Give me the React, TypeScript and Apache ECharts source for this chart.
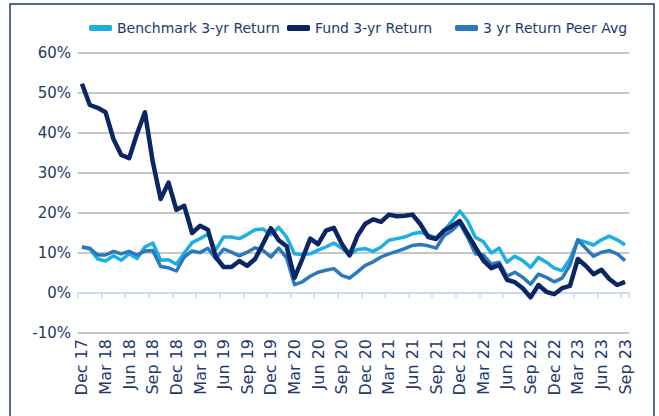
import React, { useEffect, useRef } from "react";
import * as echarts from "echarts";

const months = [
  "Dec 17",
  "Jan 18", "Feb 18", "Mar 18", "Apr 18", "May 18", "Jun 18", "Jul 18", "Aug 18", "Sep 18", "Oct 18", "Nov 18", "Dec 18",
  "Jan 19", "Feb 19", "Mar 19", "Apr 19", "May 19", "Jun 19", "Jul 19", "Aug 19", "Sep 19", "Oct 19", "Nov 19", "Dec 19",
  "Jan 20", "Feb 20", "Mar 20", "Apr 20", "May 20", "Jun 20", "Jul 20", "Aug 20", "Sep 20", "Oct 20", "Nov 20", "Dec 20",
  "Jan 21", "Feb 21", "Mar 21", "Apr 21", "May 21", "Jun 21", "Jul 21", "Aug 21", "Sep 21", "Oct 21", "Nov 21", "Dec 21",
  "Jan 22", "Feb 22", "Mar 22", "Apr 22", "May 22", "Jun 22", "Jul 22", "Aug 22", "Sep 22", "Oct 22", "Nov 22", "Dec 22",
  "Jan 23", "Feb 23", "Mar 23", "Apr 23", "May 23", "Jun 23", "Jul 23", "Aug 23", "Sep 23",
];

const benchmark = [
  11.5,
  11, 8.5, 8, 9.3, 8.2, 9.8, 8.6, 11.5, 12.5, 8.2, 8.3, 7.2,
  10, 12.6, 13.6, 14.7, 10.8, 14, 14, 13.6, 14.6, 15.8, 16, 14.6,
  16.4, 14, 9.8, 9.6, 9.8, 10.7, 11.5, 12.5, 11.2, 9.5, 10.9, 11.1,
  10.4, 11.5, 13.2, 13.6, 14, 14.8, 15.2, 14.5, 13.8, 15.6, 18, 20.5,
  18, 13.9, 12.8, 10, 11.2, 7.7, 9.2, 8.1, 6.4, 8.9, 7.7, 6.2,
  5.6, 8.5, 13.3, 12.7, 12, 13.3, 14.2, 13.3, 12,
];

const fund = [
  52.3,
  47, 46.3, 45.2, 38.5, 34.5, 33.7, 39.8, 45.2, 32.8, 23.5, 27.6, 20.8,
  21.8, 15, 16.8, 15.8, 9, 6.5, 6.5, 8, 6.8, 8.5, 12.3, 16.2,
  13.2, 11.7, 3.8, 8.5, 13.6, 12.2, 15.6, 16.3, 12.3, 9.4, 14.3, 17.3,
  18.4, 17.8, 19.6, 19.2, 19.3, 19.6, 17.2, 14, 13.5, 15.6, 16.7, 18,
  14.7, 11.4, 8.1, 6.2, 7, 3.3, 2.7, 1.2, -1.1, 2, 0.3, -0.3,
  1.2, 1.8, 8.5, 6.8, 4.7, 5.8, 3.5, 2, 2.8,
];

const peerAvg = [
  11.5,
  11.2, 9.5, 9.5, 10.4, 9.8, 10.4, 9.5, 10.5, 10.6, 6.6, 6.3, 5.5,
  9, 10.5, 10.1, 11.2, 8.6, 11, 10.2, 9.3, 10.2, 11.3, 10.7, 9,
  11.2, 8.8, 2.1, 2.8, 4.2, 5.2, 5.7, 6.1, 4.4, 3.7, 5.3, 6.9,
  7.8, 9, 9.8, 10.4, 11.1, 11.9, 12.1, 11.8, 11.2, 14.3, 15.6, 17.5,
  13.9, 9.8, 9.5, 7.2, 7.7, 4.2, 5.2, 3.9, 2.2, 4.7, 3.9, 2.8,
  3.7, 7, 13.3, 11.2, 9.2, 10.2, 10.6, 9.8, 8.1,
];

const seriesNames = ["Benchmark 3-yr Return", "Fund 3-yr Return", "3 yr Return Peer Avg"];
const seriesColors = ["#1eaee6", "#0b2664", "#2b78bd"];

const FONT = "DejaVu Sans";
const TEXT = "#23396b";

export default function App() {
  const ref = useRef<HTMLDivElement>(null);

  useEffect(() => {
    if (!ref.current) return;
    const chart = echarts.init(ref.current, null, { renderer: "svg" });
    const values = [benchmark, fund, peerAvg];
    const widths = [3.5, 4.5, 3.5];
    const legendLeft = [84, 282, 450];

    chart.setOption({
      animation: false,
      backgroundColor: "#ffffff",
      textStyle: { fontFamily: FONT },
      graphic: [
        {
          type: "rect",
          shape: { x: 10, y: 4, width: 644, height: 430 },
          style: { fill: "none", stroke: "#1f3864", lineWidth: 1.5 },
          silent: true,
          z: -10,
        },
      ],
      legend: seriesNames.map((n, i) => ({
        data: [n],
        left: legendLeft[i],
        top: 16,
        icon: "roundRect",
        itemWidth: 23,
        itemHeight: 6,
        textStyle: { color: TEXT, fontSize: 14, fontFamily: FONT },
        selectedMode: false,
      })),
      grid: { left: 78, right: 30, top: 53, bottom: 83, containLabel: false },
      xAxis: [
        {
          type: "category",
          data: months,
          position: "bottom",
          boundaryGap: true,
          axisLine: { show: false, onZero: false },
          axisTick: { show: false },
          axisLabel: {
            interval: 2,
            rotate: 90,
            margin: 6,
            color: TEXT,
            fontSize: 16,
            fontFamily: FONT,
          },
          splitLine: { show: false },
        },
        {
          type: "category",
          data: months,
          position: "bottom",
          boundaryGap: true,
          axisLine: { show: true, onZero: true, lineStyle: { color: "#c8daf2", width: 2 } },
          axisTick: { show: true, interval: 2, length: 5, lineStyle: { color: "#c8daf2", width: 1.5 } },
          axisLabel: { show: false },
          splitLine: { show: false },
        },
      ],
      yAxis: {
        type: "value",
        min: -10,
        max: 60,
        interval: 10,
        axisLine: { show: false },
        axisTick: { show: false },
        axisLabel: {
          formatter: "{value}%",
          color: TEXT,
          fontSize: 15,
          fontFamily: FONT,
          margin: 7,
        },
        splitLine: { lineStyle: { color: "#b4b4b4", width: 1.5 } },
      },
      series: seriesNames.map((n, i) => ({
        name: n,
        type: "line",
        xAxisIndex: 0,
        data: values[i],
        symbol: "none",
        color: seriesColors[i],
        lineStyle: { width: widths[i], color: seriesColors[i], join: "round" },
        z: i === 1 ? 3 : 2,
      })),
    });

    return () => chart.dispose();
  }, []);

  return (
    <div
      ref={ref}
      style={{ position: "fixed", left: 0, top: 0, width: 659, height: 416 }}
    />
  );
}
